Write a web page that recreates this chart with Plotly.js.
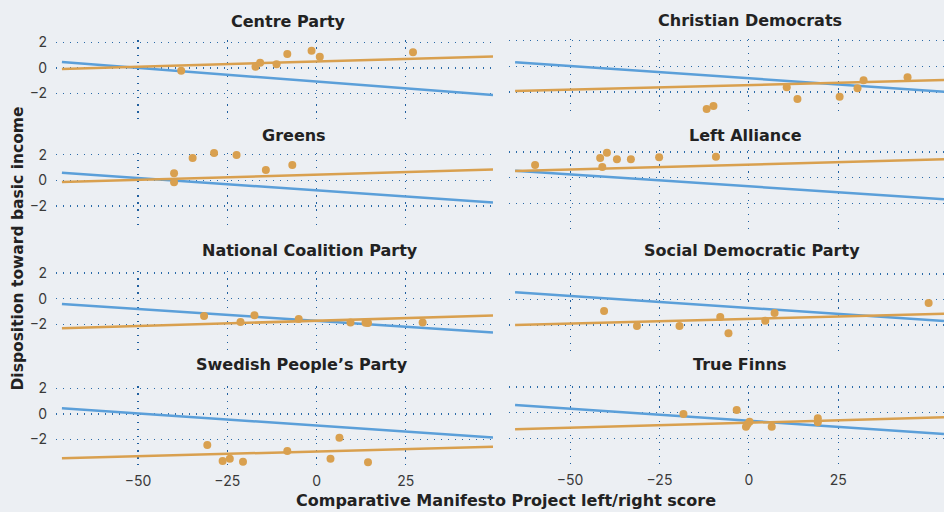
<!DOCTYPE html>
<html><head><meta charset="utf-8">
<script src="https://cdn.plot.ly/plotly-3.0.1.min.js"></script>
<style>html,body{margin:0;padding:0;background:#eceff3;}</style>
</head><body><div id="chart" style="width:944px;height:512px;"></div>
<script>
// ---- data ----
const parties = ["Centre Party","Christian Democrats","Greens","Left Alliance","National Coalition Party","Social Democratic Party","Swedish People’s Party","True Finns"];

const centreX = [-37.9,-17.1,-15.8,-11.2,-8.2,-1.4,0.9,27.0];
const centreY = [-0.22,0.09,0.41,0.28,1.09,1.34,0.88,1.22];
const christianX = [-11.8,-9.9,10.6,13.6,25.4,30.4,32.1,44.4];
const christianY = [-3.34,-3.11,-1.65,-2.56,-2.38,-1.73,-1.10,-0.87];
const greensX = [-39.9,-39.9,-34.7,-28.7,-22.4,-14.2,-6.8];
const greensY = [0.54,-0.16,1.73,2.13,1.97,0.80,1.19];
const leftX = [-59.8,-41.6,-41.0,-39.7,-36.9,-33.0,-25.1,-9.2];
const leftY = [0.99,1.54,0.84,1.95,1.44,1.44,1.59,1.64];
const coalitionX = [-31.5,-21.3,-17.4,-5.0,9.5,13.7,14.4,29.7];
const coalitionY = [-1.35,-1.82,-1.30,-1.59,-1.85,-1.88,-1.90,-1.85];
const socdemX = [-40.5,-31.3,-19.4,-8.0,-5.7,4.6,7.2,50.3];
const socdemY = [-0.90,-2.07,-2.07,-1.37,-2.64,-1.66,-1.05,-0.27];
const swedishX = [-30.6,-26.3,-24.3,-20.6,-8.2,3.9,6.4,14.4];
const swedishY = [-2.43,-3.68,-3.50,-3.73,-2.90,-3.50,-1.86,-3.78];
const finnsX = [-18.3,-3.4,0.2,-0.8,-0.4,6.4,19.3,19.3];
const finnsY = [-0.10,0.21,-0.70,-1.09,-0.91,-1.09,-0.44,-0.75];

// fitted lines: values at the two ends of each column
const lineXLeft = [-71.3, 49.4];
const lineXRight = [-65.4, 54.6];
const blueEnds = [[0.46,-2.12],[0.30,-1.99],[0.59,-1.75],[0.55,-1.69],[-0.41,-2.64],[0.56,-1.68],[0.44,-1.85],[0.60,-1.66]];
const orangeEnds = [[-0.08,0.90],[-1.94,-1.08],[-0.14,0.83],[0.52,1.44],[-2.31,-1.32],[-1.99,-1.11],[-3.47,-2.56],[-1.30,-0.36]];

const xTicks = [-50,-25,0,25];
const yTicks = [-2,0,2];

// ---- build ----
const W = 944, H = 512;
const ptsX = [centreX,christianX,greensX,leftX,coalitionX,socdemX,swedishX,finnsX];
const ptsY = [centreY,christianY,greensY,leftY,coalitionY,socdemY,swedishY,finnsY];
const centers = [67.9,66.2,180.2,177.7,298.7,299.5,413.9,412.7];
const titlePos = [[288,21],[749.5,20],[294,135],[745,135],[309.5,250],[751.5,250],[301.5,364],[740,364]];
const pxPerUnit = 12.8, yTop = 2.15, yBot = -4.0;
const orange = '#d9a04f', blue = '#5b9fd9';
const gridColor = '#2a6aa8';
const titleFont = '"DejaVu Sans", sans-serif';
const tickFont = 'Inter, sans-serif';

const data = [], layout = {
  width: W, height: H, margin: {l:0,r:0,t:0,b:0},
  paper_bgcolor: '#eceff3', plot_bgcolor: '#eceff3',
  showlegend: false, font: {family: tickFont, color: '#222'},
  annotations: []
};
for (let i = 0; i < 8; i++) {
  const k = i + 1, sfx = k === 1 ? '' : String(k);
  const isLeft = i % 2 === 0, isBottom = i >= 6;
  const lx = isLeft ? lineXLeft : lineXRight;
  data.push({x: lx, y: blueEnds[i], type: 'scatter', mode: 'lines', line: {color: blue, width: 2.5}, xaxis: 'x'+sfx, yaxis: 'y'+sfx, hoverinfo: 'skip'});
  data.push({x: lx, y: orangeEnds[i], type: 'scatter', mode: 'lines', line: {color: orange, width: 2.5}, xaxis: 'x'+sfx, yaxis: 'y'+sfx, hoverinfo: 'skip'});
  data.push({x: ptsX[i], y: ptsY[i], type: 'scatter', mode: 'markers', marker: {color: orange, size: 8}, xaxis: 'x'+sfx, yaxis: 'y'+sfx, cliponaxis: false});
  const top = centers[i] - yTop * pxPerUnit;
  const bot = centers[i] - yBot * pxPerUnit;
  const xd = isLeft ? [56/W, 493/W] : [509/W, 1];
  const xr = isLeft ? [-72.96, 49.4] : [-67.1, 54.6];
  layout['xaxis'+sfx] = {
    domain: xd, range: xr, anchor: 'y'+sfx, tickvals: xTicks,
    showticklabels: isBottom, ticks: '', ticklabelstandoff: 6,
    tickfont: {size: 14, color: '#3a3a3a', family: tickFont},
    showgrid: true, gridcolor: '#1f5e9e', gridwidth: 1.2, griddash: '1.3px,5.8px',
    zeroline: false, showline: false, fixedrange: true
  };
  layout['yaxis'+sfx] = {
    domain: [(H - bot)/H, (H - top)/H], range: [yBot, yTop], anchor: 'x'+sfx, tickvals: yTicks,
    showticklabels: isLeft, ticks: '', ticklabelstandoff: 8,
    tickfont: {size: 14, color: '#3a3a3a', family: tickFont},
    showgrid: true, gridcolor: gridColor, gridwidth: 1.4, griddash: '1.4px,5.6px',
    zeroline: false, showline: false, fixedrange: true
  };
  layout.annotations.push({text: '<b>' + parties[i] + '</b>', xref: 'paper', yref: 'paper',
    x: titlePos[i][0]/W, y: 1 - titlePos[i][1]/H, xanchor: 'center', yanchor: 'middle',
    showarrow: false, font: {size: 16, color: '#222', family: titleFont}});
}
layout.annotations.push({text: '<b>Disposition toward basic income</b>', xref: 'paper', yref: 'paper',
  x: 17/W, y: 1 - 248.5/H, xanchor: 'center', yanchor: 'middle', textangle: -90, showarrow: false,
  font: {size: 15.5, color: '#222', family: titleFont}});
layout.annotations.push({text: '<b>Comparative Manifesto Project left/right score</b>', xref: 'paper', yref: 'paper',
  x: 506/W, y: 1 - 500/H, xanchor: 'center', yanchor: 'middle', showarrow: false,
  font: {size: 16, color: '#222', family: titleFont}});

Plotly.newPlot('chart', data, layout, {staticPlot: true, displayModeBar: false});
</script></body></html>
